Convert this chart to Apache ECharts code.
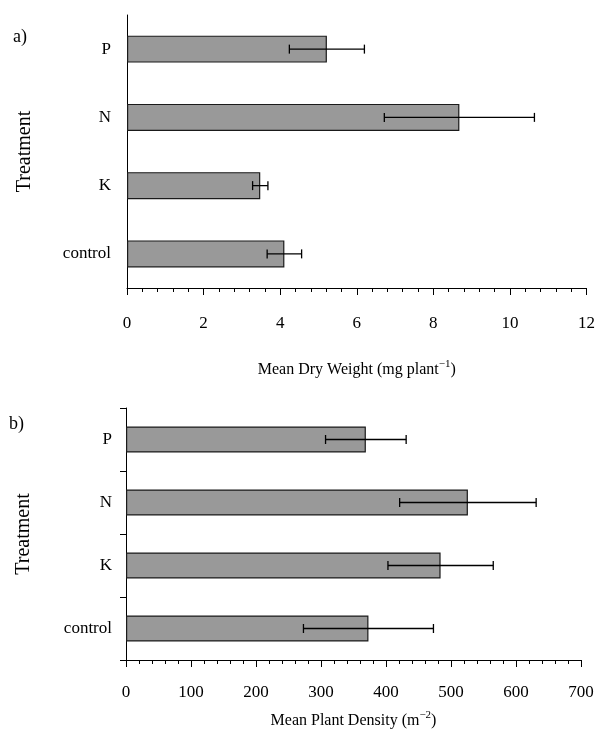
<!DOCTYPE html>
<html>
<head>
<meta charset="utf-8">
<script src="https://cdn.jsdelivr.net/npm/echarts@6/dist/echarts.min.js"></script>
<style>
  html, body { margin: 0; padding: 0; background: #fff; }
  #chart { width: 598px; height: 732px; }
</style>
</head>
<body>
<div id="chart"></div>
<script>
// treatments, listed from bottom to top
var treatments = ['control', 'K', 'N', 'P'];

// a) mean dry weight (mg plant-1) and its error
var dryWeight = [4.11, 3.48, 8.68, 5.22];
var dryWeightErr = [0.45, 0.2, 1.96, 0.98];

// b) mean plant density (m-2) and its error
var density = [373, 484, 526, 369];
var densityErr = [100, 81, 105, 62];

function errorRows(means, errs) {
    var rows = [];
    for (var i = 0; i < means.length; i++) {
        rows.push([i, means[i] - errs[i], means[i] + errs[i]]);
    }
    return rows;
}

// draws a horizontal error bar with caps
function errorRender(params, api) {
    var cat = api.value(0);
    var lo = api.coord([api.value(1), cat]);
    var hi = api.coord([api.value(2), cat]);
    var cap = 4.5;
    var style = { stroke: '#000', lineWidth: 1.3 };
    return {
        type: 'group',
        children: [
            { type: 'line', shape: { x1: lo[0], y1: lo[1], x2: hi[0], y2: hi[1] }, style: style },
            { type: 'line', shape: { x1: lo[0], y1: lo[1] - cap, x2: lo[0], y2: lo[1] + cap }, style: style },
            { type: 'line', shape: { x1: hi[0], y1: hi[1] - cap, x2: hi[0], y2: hi[1] + cap }, style: style }
        ]
    };
}

var font = 'Liberation Serif';
var black = '#000';

function valueAxis(idx, max, interval, nameText, gap, labelMargin) {
    return {
        type: 'value',
        gridIndex: idx,
        min: 0,
        max: max,
        interval: interval,
        name: nameText,
        nameLocation: 'middle',
        nameGap: gap,
        nameTextStyle: {
            color: black,
            fontFamily: font,
            rich: {
                n: { fontFamily: font, fontSize: 16, color: black },
                s: { fontFamily: font, fontSize: 11, color: black, padding: [0, 0, 11, 0] }
            }
        },
        axisLine: { show: true, lineStyle: { color: black, width: 1 } },
        axisTick: { show: true, length: 7, lineStyle: { color: black } },
        minorTick: { show: true, splitNumber: 5, length: 4, lineStyle: { color: black } },
        splitLine: { show: false },
        axisLabel: { color: black, fontFamily: font, fontSize: 17, margin: labelMargin }
    };
}

function catAxis(idx, ticks, labelMargin) {
    return {
        type: 'category',
        gridIndex: idx,
        data: treatments,
        name: 'Treatment',
        nameLocation: 'middle',
        nameRotate: 90,
        nameGap: 92,
        nameTextStyle: { color: black, fontFamily: font, fontSize: 20 },
        axisLine: { show: true, lineStyle: { color: black, width: 1 } },
        axisTick: { show: ticks, length: 6, lineStyle: { color: black } },
        axisLabel: { color: black, fontFamily: font, fontSize: 17, margin: labelMargin }
    };
}

var barStyle = { color: '#999999', borderColor: '#1a1a1a', borderWidth: 1.2 };

var chart = echarts.init(document.getElementById('chart'), null, { renderer: 'canvas' });

chart.setOption({
    animation: false,
    backgroundColor: '#fff',
    graphic: [
        { type: 'text', left: 13, top: 28, style: { text: 'a)', font: '18px "Liberation Serif"', fill: black } },
        { type: 'text', left: 9, top: 415, style: { text: 'b)', font: '18px "Liberation Serif"', fill: black } }
    ],
    grid: [
        { left: 127, right: 11, top: 15, height: 273 },
        { left: 126, right: 17, top: 408, height: 252 }
    ],
    xAxis: [
        valueAxis(0, 12, 2, '{n|Mean Dry Weight (mg plant}{s|\u22121}{n|)}', 71, 27),
        valueAxis(1, 700, 100, '{n|Mean Plant Density (m}{s|\u22122}{n|)}', 50, 24)
    ],
    yAxis: [
        catAxis(0, false, 16),
        catAxis(1, true, 14)
    ],
    series: [
        {
            type: 'bar', xAxisIndex: 0, yAxisIndex: 0,
            barWidth: 27, itemStyle: barStyle, data: dryWeight
        },
        {
            type: 'custom', xAxisIndex: 0, yAxisIndex: 0,
            renderItem: errorRender, encode: { x: [1, 2], y: 0 },
            data: errorRows(dryWeight, dryWeightErr), z: 10
        },
        {
            type: 'bar', xAxisIndex: 1, yAxisIndex: 1,
            barWidth: 26, itemStyle: barStyle, data: density
        },
        {
            type: 'custom', xAxisIndex: 1, yAxisIndex: 1,
            renderItem: errorRender, encode: { x: [1, 2], y: 0 },
            data: errorRows(density, densityErr), z: 10
        }
    ]
});

window.addEventListener('resize', function() {
    chart.resize();
});
</script>
</body>
</html>
